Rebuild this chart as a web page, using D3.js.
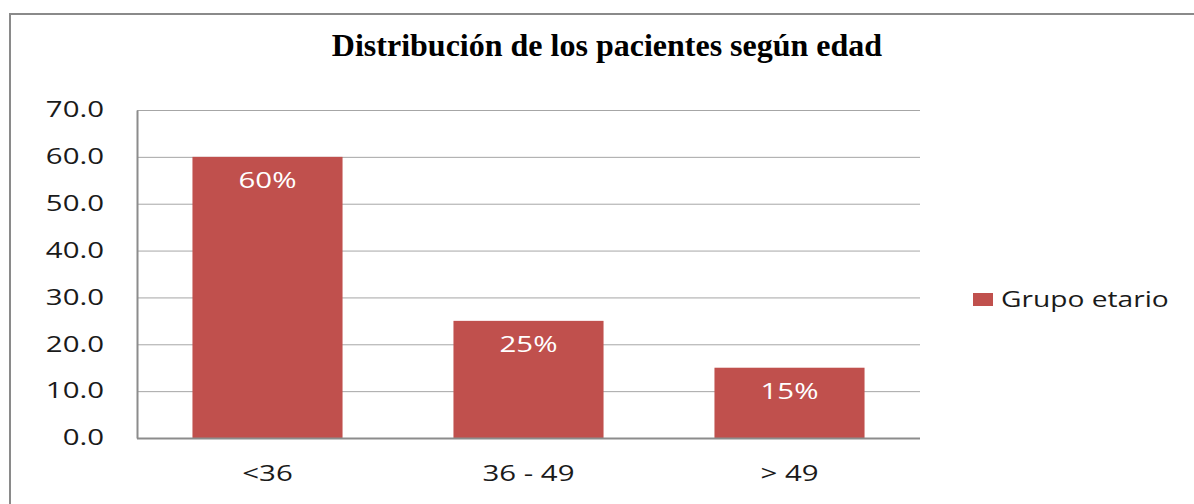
<!DOCTYPE html>
<html>
<head>
<meta charset="utf-8">
<script src="https://cdn.jsdelivr.net/npm/d3@7"></script>
<style>
  body { margin: 0; background: #fff; }
  svg { display: block; }
</style>
</head>
<body>
<div class="chart"></div>
<script>
const categories = ['<36', '36 - 49', '> 49']
const values = [60, 25, 15]
const labels = ['60%', '25%', '15%']
const yTicks = [0, 10, 20, 30, 40, 50, 60, 70]
const seriesName = 'Grupo etario'
const title = 'Distribución de los pacientes según edad'

const width = 1194
const height = 504
const margin = { top: 110, right: 274, bottom: 66, left: 137 }

const barColor = '#c0504d'
const sansFont = '"Open Sans", sans-serif'

const svg = d3.select('.chart')
    .append('svg')
    .attr('width', width)
    .attr('height', height)

// outer frame (only top and left edges show in the picture)
svg.append('path')
    .attr('d', `M10,${height} V14 H${width}`)
    .attr('fill', 'none')
    .attr('stroke', '#8a8a8a')
    .attr('stroke-width', 2)

const x = d3.scaleBand()
    .domain(categories)
    .range([margin.left, width - margin.right])
    .paddingInner(0.425)
    .paddingOuter(0.2125)

const y = d3.scaleLinear()
    .domain([0, 70])
    .range([height - margin.bottom, margin.top])

// stretch text horizontally, the source renders a wide sans
const stretch = (sel, k) => sel.each(function() {
    const w = this.getComputedTextLength()
    d3.select(this)
        .attr('textLength', w * k)
        .attr('lengthAdjust', 'spacingAndGlyphs')
})

// gridlines
svg.append('g')
    .selectAll('line')
    .data(yTicks.filter(d => d > 0))
    .enter()
    .append('line')
    .attr('x1', margin.left)
    .attr('x2', width - margin.right)
    .attr('y1', d => y(d) + 0.5)
    .attr('y2', d => y(d) + 0.5)
    .attr('stroke', '#a6a6a6')
    .attr('stroke-width', 1)

// bars
svg.append('g')
    .selectAll('rect')
    .data(values)
    .enter()
    .append('rect')
    .attr('x', (d, i) => x(categories[i]))
    .attr('y', d => y(d))
    .attr('width', x.bandwidth())
    .attr('height', d => y(0) - y(d))
    .attr('fill', barColor)

// value labels
svg.append('g')
    .selectAll('text')
    .data(values)
    .enter()
    .append('text')
    .attr('x', (d, i) => x(categories[i]) + x.bandwidth() / 2)
    .attr('y', d => y(d) + 31)
    .attr('text-anchor', 'middle')
    .attr('fill', '#fff')
    .attr('font-family', sansFont)
    .attr('font-size', 21)
    .text((d, i) => labels[i])
    .call(stretch, 1.4)

// y axis
const yAxis = svg.append('g')
    .attr('transform', `translate(${margin.left},0)`)
    .call(d3.axisLeft(y)
        .tickValues(yTicks)
        .tickSize(0)
        .tickPadding(33)
        .tickFormat(d3.format('.1f')))
yAxis.select('.domain')
    .attr('stroke', '#8c8c8c')
    .attr('stroke-width', 2)
yAxis.selectAll('text')
    .attr('font-family', sansFont)
    .attr('font-size', 21)
    .attr('fill', '#1a1a1a')
    .call(stretch, 1.4)

// x axis
const xAxis = svg.append('g')
    .attr('transform', `translate(0,${y(0)})`)
    .call(d3.axisBottom(x).tickSize(0).tickPadding(28))
xAxis.select('.domain')
    .attr('d', `M${margin.left},0.5H${width - margin.right}`)
    .attr('stroke', '#8c8c8c')
    .attr('stroke-width', 2)
xAxis.selectAll('text')
    .attr('font-family', sansFont)
    .attr('font-size', 21)
    .attr('fill', '#1a1a1a')
    .call(stretch, 1.4)

// title
svg.append('text')
    .attr('x', 607)
    .attr('y', 56)
    .attr('text-anchor', 'middle')
    .attr('font-family', '"Liberation Serif", "Times New Roman", serif')
    .attr('font-weight', 'bold')
    .attr('font-size', 32)
    .attr('fill', '#000')
    .text(title)

// legend
const legend = svg.append('g')
    .attr('transform', 'translate(973,293)')
legend.append('rect')
    .attr('width', 20)
    .attr('height', 13)
    .attr('fill', barColor)
legend.append('text')
    .attr('x', 28)
    .attr('y', 14)
    .attr('font-family', sansFont)
    .attr('font-size', 21)
    .attr('fill', '#1a1a1a')
    .text(seriesName)
    .call(stretch, 1.34)
</script>
</body>
</html>
